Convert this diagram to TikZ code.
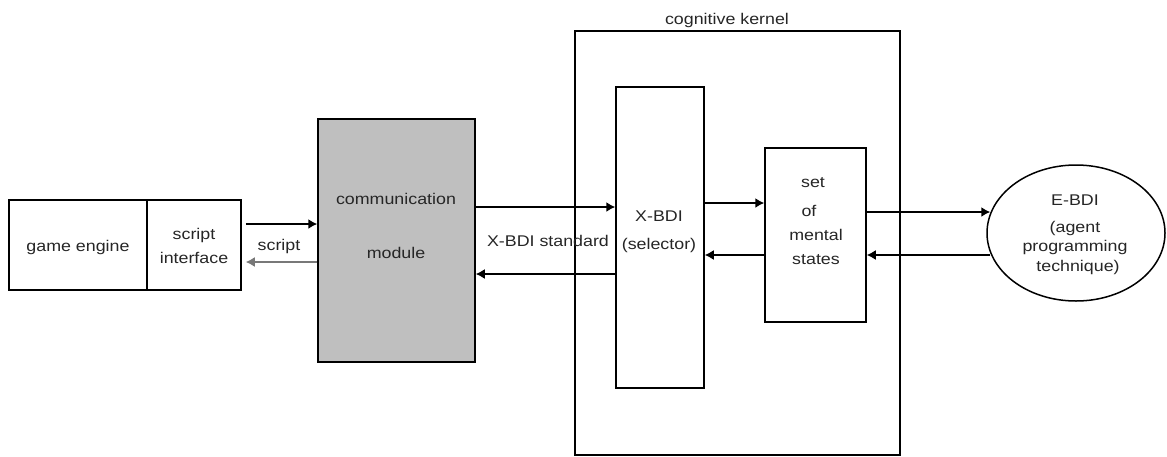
\documentclass[tikz,border=0pt]{standalone}
\usepackage{fontspec}
\setmainfont{Liberation Sans}[FakeStretch=1.15]
\usetikzlibrary{shapes.geometric,arrows.meta}
\definecolor{boxgray}{RGB}{191,191,191}
\definecolor{linegray}{RGB}{120,120,120}
\tikzset{
  box/.style={draw=black, line width=1.5pt, inner sep=0pt, fill=white},
  lbl/.style={inner sep=0pt, font=\fontsize{15.5}{18}\selectfont, text=black!85},
  arr/.style={line width=1.5pt, -{Latex[length=9pt,width=10pt]}},
}
\begin{document}
\begin{tikzpicture}[x=1pt,y=-1pt]
\useasboundingbox (0,0) rectangle (1167,456);
% boxes
\node[box, minimum width=138pt, minimum height=90pt] (ge) at (78,245) {};
\node[box, minimum width=94pt, minimum height=90pt] (si) at (194,245) {};
\node[box, fill=boxgray, minimum width=157pt, minimum height=243pt] (comm) at (396.5,240.5) {};
\node[box, minimum width=325pt, minimum height=424pt] (ck) at (737.5,243) {};
\node[box, minimum width=88pt, minimum height=301pt] (xbdi) at (660,237.5) {};
\node[box, minimum width=101pt, minimum height=174pt] (set) at (815.5,235) {};
\node[box, ellipse, minimum width=178pt, minimum height=136pt] (ebdi) at (1076,233) {};
% texts
\node[lbl] (tge) at (78,247) {game engine};
\node[lbl] (tsi1) at (194,235) {script};
\node[lbl] (tsi2) at (194,258) {interface};
\node[lbl] (tscr) at (279,246) {script};
\node[lbl] (tcm1) at (396,199) {communication};
\node[lbl] (tcm2) at (396,253) {module};
\node[lbl] (tck) at (727,20) {cognitive kernel};
\node[lbl] (tstd) at (548,241) {X-BDI standard};
\node[lbl] (tx1) at (659,216) {X-BDI};
\node[lbl] (tx2) at (659,245) {(selector)};
\node[lbl] (ts1) at (813,183) {set};
\node[lbl] (ts2) at (809,211) {of};
\node[lbl] (ts3) at (816,235) {mental};
\node[lbl] (ts4) at (816,260) {states};
\node[lbl] (te1) at (1075,200) {E-BDI};
\node[lbl] (te2) at (1075,228) {(agent};
\node[lbl] (te3) at (1075,247) {programming};
\node[lbl] (te4) at (1078,267) {technique)};
% connector levels
\coordinate (y224) at (0,224);
\coordinate (y262) at (0,262);
\coordinate (y207) at (0,207);
\coordinate (y274) at (0,274);
\coordinate (y203) at (0,203);
\coordinate (y255) at (0,255);
\coordinate (y212) at (0,212);
% connectors
\draw[arr] ([xshift=4pt]si.east |- y224) -- (comm.west |- y224);
\draw[arr, draw=linegray] (comm.west |- y262) -- ([xshift=4pt]si.east |- y262);
\draw[arr] (comm.east |- y207) -- (xbdi.west |- y207);
\draw[arr] (xbdi.west |- y274) -- (comm.east |- y274);
\draw[arr] (xbdi.east |- y203) -- (set.west |- y203);
\draw[arr] (set.west |- y255) -- (xbdi.east |- y255);
\draw[arr] (set.east |- y212) -- ([xshift=4pt]ebdi.west |- y212);
\draw[arr] ([xshift=4pt]ebdi.west |- y255) -- (set.east |- y255);
\end{tikzpicture}
\end{document}
